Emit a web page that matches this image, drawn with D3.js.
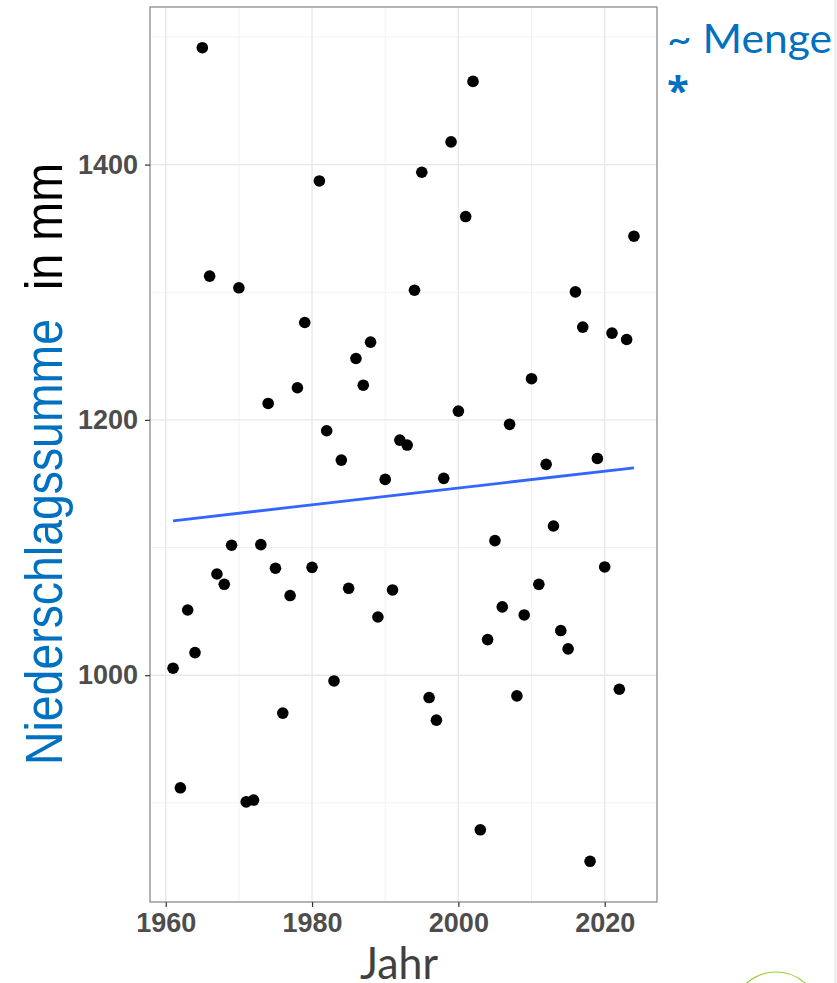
<!DOCTYPE html>
<html>
<head>
<meta charset="utf-8">
<script src="https://cdn.jsdelivr.net/npm/d3@7"></script>
<style>
  html, body { margin: 0; padding: 0; background: #fff; }
  svg { display: block; }
</style>
</head>
<body>
<div id="chart"></div>
<script>
// ── Data: annual precipitation totals (mm) ────────────────────────────────
const years = d3.range(1961, 2025);
const precip = [
  1005.5, 911.8, 1051.1, 1017.7, 1491.6, 1312.6, 1079.3, 1071.2, 1101.8, 1303.5,
  900.8, 902.2, 1102.3, 1212.9, 1083.8, 970.3, 1062.4, 1225.2, 1276.3, 1084.5,
  1387.2, 1191.5, 995.5, 1168.5, 1068.1, 1248.1, 1227.2, 1260.9, 1045.6, 1153.4,
  1066.8, 1184.2, 1180.3, 1301.6, 1394.0, 982.5, 964.8, 1154.2, 1417.8, 1206.9,
  1359.3, 1465.2, 878.9, 1027.9, 1105.4, 1053.5, 1196.5, 983.8, 1047.2, 1232.3,
  1071.2, 1165.2, 1116.9, 1035.0, 1020.6, 1300.3, 1272.7, 854.2, 1169.8, 1084.8,
  1268.0, 989.0, 1263.0, 1343.9
];
const xTicks = [1960, 1980, 2000, 2020];
const xMinor = [1970, 1990, 2010];
const yTicks = [1000, 1200, 1400];
const yMinor = [900, 1100, 1300, 1500];

const points = years.map((y, i) => ({ year: y, value: precip[i] }));

// ── Dimensions ─────────────────────────────────────────────────────────────
const width = 837, height = 983;
const panel = { left: 150, right: 657, top: 7, bottom: 902 };

const svg = d3.select("#chart").append("svg")
  .attr("width", width)
  .attr("height", height);

// ggplot-style 5% expansion
function expand([a, b]) {
  const d = (b - a) * 0.05;
  return [a - d, b + d];
}

const x = d3.scaleLinear()
  .domain(expand(d3.extent(years)))
  .range([panel.left, panel.right]);

const y = d3.scaleLinear()
  .domain(expand(d3.extent(precip)))
  .range([panel.bottom, panel.top]);

// ── Gridlines ──────────────────────────────────────────────────────────────
const grid = svg.append("g");

grid.selectAll(".gx-minor").data(xMinor).join("line")
  .attr("x1", d => x(d)).attr("x2", d => x(d))
  .attr("y1", panel.top).attr("y2", panel.bottom)
  .attr("stroke", "#f2f2f2").attr("stroke-width", 1);

grid.selectAll(".gy-minor").data(yMinor).join("line")
  .attr("y1", d => y(d)).attr("y2", d => y(d))
  .attr("x1", panel.left).attr("x2", panel.right)
  .attr("stroke", "#f2f2f2").attr("stroke-width", 1);

grid.selectAll(".gx").data(xTicks).join("line")
  .attr("x1", d => x(d)).attr("x2", d => x(d))
  .attr("y1", panel.top).attr("y2", panel.bottom)
  .attr("stroke", "#e8e8e8").attr("stroke-width", 1.4);

grid.selectAll(".gy").data(yTicks).join("line")
  .attr("y1", d => y(d)).attr("y2", d => y(d))
  .attr("x1", panel.left).attr("x2", panel.right)
  .attr("stroke", "#e8e8e8").attr("stroke-width", 1.4);

// ── Linear trend (least squares) ───────────────────────────────────────────
const mx = d3.mean(years), my = d3.mean(precip);
const slope = d3.sum(points, p => (p.year - mx) * (p.value - my)) /
              d3.sum(points, p => (p.year - mx) ** 2);
const icpt = my - slope * mx;
const trend = d3.extent(years).map(yr => ({ year: yr, value: icpt + slope * yr }));

// ── Points ─────────────────────────────────────────────────────────────────
svg.append("g").selectAll("circle").data(points).join("circle")
  .attr("cx", d => x(d.year))
  .attr("cy", d => y(d.value))
  .attr("r", 5.8)
  .attr("fill", "#000");

svg.append("path")
  .datum(trend)
  .attr("fill", "none")
  .attr("stroke", "#3366ff")
  .attr("stroke-width", 2.8)
  .attr("d", d3.line().x(d => x(d.year)).y(d => y(d.value)));

// ── Panel border ───────────────────────────────────────────────────────────
svg.append("rect")
  .attr("x", panel.left).attr("y", panel.top)
  .attr("width", panel.right - panel.left)
  .attr("height", panel.bottom - panel.top)
  .attr("fill", "none")
  .attr("stroke", "#8c8c8c")
  .attr("stroke-width", 1.3);

// ── Axes ───────────────────────────────────────────────────────────────────
const tickFont = "'Liberation Sans', Arial, sans-serif";

const gx = svg.append("g")
  .attr("transform", `translate(0,${panel.bottom})`)
  .call(d3.axisBottom(x).tickValues(xTicks).tickFormat(d3.format("d"))
    .tickSize(5).tickPadding(6));

const gy = svg.append("g")
  .attr("transform", `translate(${panel.left},0)`)
  .call(d3.axisLeft(y).tickValues(yTicks).tickFormat(d3.format("d"))
    .tickSize(5).tickPadding(7));

[gx, gy].forEach(g => {
  g.select(".domain").remove();
  g.selectAll(".tick line").attr("stroke", "#333").attr("stroke-width", 1.2);
  g.selectAll(".tick text")
    .attr("fill", "#4d4d4d")
    .style("font-family", tickFont)
    .style("font-weight", "bold")
    .style("font-size", "27px");
});

// ── Axis titles ────────────────────────────────────────────────────────────
const yTitle = svg.append("text")
  .attr("transform", "translate(62,765) rotate(-90)")
  .style("font-family", tickFont)
  .style("font-size", "51px");

yTitle.append("tspan")
  .attr("fill", "#0070c0")
  .attr("textLength", 446)
  .attr("lengthAdjust", "spacingAndGlyphs")
  .text("Niederschlagssumme");

yTitle.append("tspan")
  .attr("x", 475)
  .attr("fill", "#000")
  .attr("textLength", 127)
  .attr("lengthAdjust", "spacingAndGlyphs")
  .text("in mm");

svg.append("text")
  .attr("x", 399)
  .attr("y", 979)
  .attr("text-anchor", "middle")
  .attr("fill", "#404040")
  .attr("textLength", 78)
  .attr("lengthAdjust", "spacingAndGlyphs")
  .style("font-family", "Lato, sans-serif")
  .style("font-size", "44px")
  .text("Jahr");

// ── Slide annotations ──────────────────────────────────────────────────────
svg.append("text")
  .attr("x", 667)
  .attr("y", 53)
  .attr("fill", "#0070c0")
  .attr("textLength", 165)
  .attr("lengthAdjust", "spacingAndGlyphs")
  .style("font-family", "Lato, sans-serif")
  .style("font-size", "40px")
  .text("~ Menge");

svg.append("text")
  .attr("x", 667)
  .attr("y", 105)
  .attr("fill", "#0070c0")
  .style("font-family", "'Open Sans', sans-serif")
  .style("font-weight", "bold")
  .style("font-size", "40px")
  .text("*");

svg.append("rect")
  .attr("x", 834).attr("y", 0)
  .attr("width", 3).attr("height", height)
  .attr("fill", "#f0f0f0");

svg.append("circle")
  .attr("cx", 776).attr("cy", 1016)
  .attr("r", 44)
  .attr("fill", "none")
  .attr("stroke", "#9acd32")
  .attr("stroke-width", 1.2);
</script>
</body>
</html>
